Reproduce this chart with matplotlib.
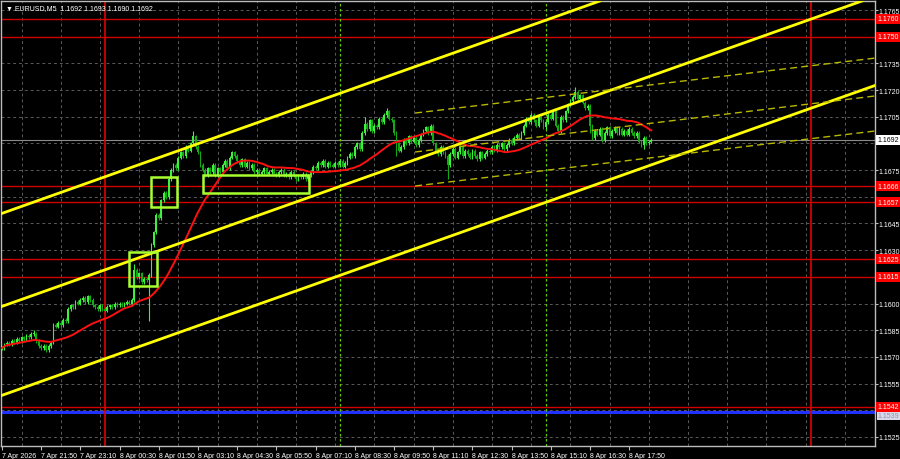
import numpy as np
import pandas as pd
import matplotlib
matplotlib.use('Agg')
import matplotlib.pyplot as plt
from matplotlib.transforms import blended_transform_factory
from matplotlib.patches import Rectangle

plt.rcParams['font.family'] = ['Liberation Sans Narrow', 'Liberation Sans', 'DejaVu Sans']

# ---- data (prices, in pips above 1.1500) ----
symbol = 'EURUSD,M5'
start_time = '2026-04-07 20:30'
base = 1.1500
close_pips = [
    75, 77, 78, 77, 79, 78, 80, 79, 81, 80,
    82, 81, 83, 83, 79, 76, 75, 76, 74, 76,
    78, 88, 87, 89, 88, 91, 90, 97, 99, 98,
    101, 100, 102, 103, 101, 104, 102, 99, 98, 97,
    99, 97, 96, 98, 99, 98, 100, 99, 100, 99,
    100, 101, 100, 102, 119, 115, 117, 112, 114, 113,
    116, 133, 140, 150, 148, 158, 162, 160, 170, 175,
    178, 176, 182, 185, 183, 188, 186, 190, 194, 188,
    185, 178, 175, 172, 176, 174, 178, 172, 176, 174,
    178, 180, 176, 182, 185, 183, 180, 178, 181, 177,
    179, 176, 178, 174, 175, 173, 174, 176, 173, 174,
    175, 173, 172, 174, 175, 172, 173, 171, 174, 172,
    170, 172, 171, 173, 170, 172, 174, 177, 176, 179,
    178, 180, 177, 179, 178, 177, 179, 178, 180, 177,
    179, 182, 184, 183, 188, 190, 187, 196, 201, 198,
    203, 197, 200, 199, 204, 202, 206, 208, 204, 203,
    196, 190, 186, 188, 192, 190, 194, 191, 193, 189,
    192, 195, 197, 199, 196, 200, 190, 186, 184, 188,
    185, 183, 178, 184, 187, 182, 185, 188, 183, 186,
    184, 182, 186, 183, 181, 185, 182, 184, 186, 185,
    188, 186, 189, 188, 190, 187, 189, 192, 190, 193,
    195, 193, 196, 200, 204, 202, 206, 203, 200, 205,
    203, 199, 202, 206, 204, 208, 200, 197, 205, 203,
    208, 212, 214, 216, 219, 215, 217, 213, 210, 211,
    200, 193, 197, 195, 198, 192, 196, 199, 194, 197,
    199, 196, 198, 195, 197, 195, 198, 196, 194, 196,
    191, 189, 193, 190, 191, 192,
]
high_spikes = {13: 85, 54: 122, 78: 197, 157: 210, 234: 222, 148: 205}
low_spikes = {60: 90, 161: 183, 182: 170, 240: 196, 262: 187}
last_ohlc = [1.1692, 1.1693, 1.1690, 1.1692]

level_prices = [1.1760, 1.1750, 1.1666, 1.1657, 1.1625, 1.1615, 1.1542]
blue_level = 1.1539
day_lines = ['2026-04-08 00:00', '2026-04-09 00:00']
mark_lines = ['2026-04-08 08:00', '2026-04-08 15:00']

# channel (bar, pips) point pairs
channel_solid = [((0, 150.7), (244, 270.1)),
                 ((0, 98.4), (347.3, 268.3)),
                 ((0, 48.4), (356.3, 222.6))]
channel_dash = [((168.6, 207.1), (356.3, 238.0)),
                ((168.6, 185.2), (356.3, 216.7)),
                ((168.6, 166.1), (356.3, 197.0))]
boxes = [(51.8, 63.3, 109.9, 129.0),
         (60.8, 71.4, 154.3, 171.1),
         (82.0, 125.3, 162.1, 172.3)]

# ---- prep ----
pip = 0.0001
c = base + np.array(close_pips) * pip
o = np.r_[c[0], c[:-1]]
hi = np.maximum(o, c) + pip
lo = np.minimum(o, c) - pip
for k, v in high_spikes.items():
    hi[k] = base + v * pip
for k, v in low_spikes.items():
    lo[k] = base + v * pip
idx = np.arange(len(c))
times = pd.date_range(start_time, periods=len(c), freq='5min')
t0 = times[0]


def bar_of(ts):
    return (pd.Timestamp(ts) - t0) / pd.Timedelta('5min')


ma = pd.Series(c).rolling(30, min_periods=1).mean()
fs = 5

fig = plt.figure(figsize=(9, 4.6), dpi=100, facecolor='black')
ax = fig.add_axes([1 / 900, 13 / 460, 874 / 900, 445 / 460])
ax.set_facecolor('black')
ax.set_xlim(-0.4, 356.3)
ax.set_ylim(1.15199, 1.17701)

grid_kw = dict(color='#5a5a5a', lw=0.7, ls=(0, (3, 3)), zorder=0)
yt = np.arange(1.1525, 1.1770, 0.0015)
for y in yt:
    ax.axhline(y, **grid_kw)
for x in np.arange(8, 357, 16):
    ax.axvline(x, **grid_kw)

for lv in level_prices:
    ax.axhline(lv, color='#d00000', lw=1, zorder=1)
ax.axhline(blue_level, color='#2030ff', lw=2.2, zorder=1)
ax.axhline(last_ohlc[3], color='#8a8a8a', lw=0.8, zorder=1)

for d in day_lines:
    ax.axvline(bar_of(d), color='#e00000', lw=1.2, zorder=1)
for d in mark_lines:
    ax.axvline(bar_of(d), color='#66cc00', lw=0.9, ls=(0, (2, 2)), zorder=1)

# candles
bull = c >= o
col = np.where(bull, '#3ef03e', '#14a814')
ax.vlines(idx, lo, hi, colors=col, lw=0.8, zorder=3)
ax.bar(idx, np.maximum(np.abs(c - o), 0.00003), bottom=np.minimum(o, c),
       width=0.75, color=col, lw=0, zorder=3)

ax.plot(idx, ma, color='#ff1010', lw=1.4, zorder=4)

for (x1, p1), (x2, p2) in channel_solid:
    ax.axline((x1, base + p1 * pip), (x2, base + p2 * pip),
              color='#ffff00', lw=2, zorder=5)
for (x1, p1), (x2, p2) in channel_dash:
    ax.plot([x1, x2], [base + p1 * pip, base + p2 * pip],
            color='#b8b800', lw=1, ls=(0, (5, 3)), zorder=5)
for b0, b1, p0, p1 in boxes:
    ax.add_patch(Rectangle((b0, base + p0 * pip), b1 - b0, (p1 - p0) * pip,
                           fill=False, ec='#a8ff30', lw=1.8, zorder=6))

# axes styling
for s in ax.spines.values():
    s.set_color('#bcbcbc')
    s.set_linewidth(1)
ax.yaxis.tick_right()
ax.set_yticks(yt)
# labels hidden under the level boxes are left blank, as on the terminal
covered = level_prices + [blue_level, last_ohlc[3]]
ax.set_yticklabels(['' if min(abs(v - lv) for lv in covered) < 0.00035 else '%.4f' % v
                    for v in yt])
ax.tick_params(axis='y', colors='#bcbcbc', labelcolor='white', labelsize=fs,
               length=2, pad=0.8)
xt = idx[::16]
xl = ['7 Apr 2026'] + [t.strftime('%-d %b %H:%M') for t in times[16::16]]
ax.set_xticks(xt)
ax.set_xticklabels(xl, ha='left')
ax.tick_params(axis='x', colors='#bcbcbc', labelcolor='white', labelsize=fs,
               length=3, pad=1.5)

tr = blended_transform_factory(ax.transAxes, ax.transData)
ax.text(1.003, blue_level - 0.0002, '%.4f' % blue_level, transform=tr, fontsize=fs,
        color='#9090b0', va='center', ha='left', zorder=9, clip_on=False,
        bbox=dict(fc='#d8d8e8', ec='none', pad=0.6))
for lv in level_prices:
    ax.text(1.003, lv, '%.4f' % lv, transform=tr, fontsize=fs, color='white',
            va='center', ha='left', zorder=10, clip_on=False,
            bbox=dict(fc='#ff0000', ec='none', pad=1.0))
ax.text(1.003, last_ohlc[3], '%.4f' % last_ohlc[3], transform=tr, fontsize=fs,
        color='black', va='center', ha='left', zorder=10, clip_on=False,
        bbox=dict(fc='white', ec='none', pad=1.0))

ax.text(0.006, 0.986, '\u25bc ' + symbol + '  ' + ' '.join('%.4f' % v for v in last_ohlc),
        transform=ax.transAxes, fontsize=fs, color='white', va='center', ha='left',
        zorder=10)

fig.savefig('out.png', dpi=100, facecolor='black')
